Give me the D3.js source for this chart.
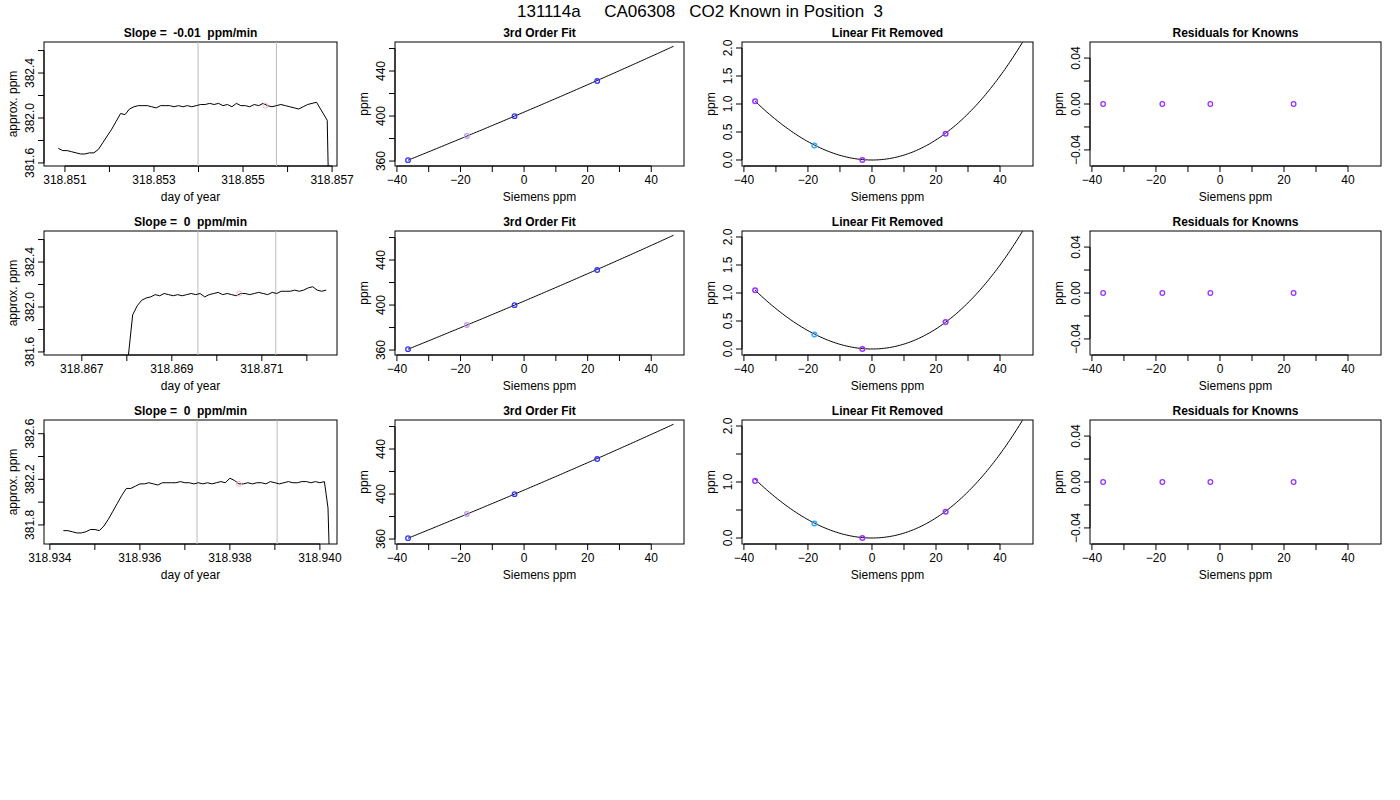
<!DOCTYPE html>
<html><head><meta charset="utf-8">
<script src="https://cdn.jsdelivr.net/npm/d3@7"></script>
<style>body{margin:0;background:#fff}text{font-family:"Liberation Sans",Arial,sans-serif;white-space:pre}</style>
</head><body><svg id="c" width="1400" height="800"></svg>
<script>
const mainTitle = "131114a     CA06308   CO2 Known in Position  3";
// time series per row
const tsStart = [318.85085, 318.86803, 318.93430];
const tsStep = 0.0001;
const tsValues = [
 [381.73,381.71,381.71,381.70,381.69,381.68,381.68,381.69,381.69,381.72,381.78,381.84,381.90,381.97,382.04,382.03,382.08,382.10,382.11,382.11,382.11,382.10,382.09,382.11,382.11,382.11,382.10,382.11,382.10,382.11,382.10,382.11,382.12,382.12,382.13,382.12,382.13,382.11,382.12,382.10,382.13,382.11,382.11,382.10,382.12,382.11,382.13,382.11,382.10,382.11,382.12,382.11,382.10,382.09,382.08,382.10,382.12,382.13,382.14],
 [381.55,381.93,382.01,382.06,382.08,382.09,382.11,382.10,382.12,382.11,382.10,382.11,382.10,382.11,382.12,382.11,382.12,382.09,382.11,382.12,382.13,382.11,382.12,382.11,382.10,382.12,382.12,382.11,382.12,382.13,382.12,382.11,382.13,382.12,382.14,382.14,382.14,382.15,382.14,382.15,382.17,382.18,382.15,382.14,382.15],
 [381.75,381.75,381.74,381.73,381.73,381.74,381.76,381.76,381.75,381.79,381.85,381.92,381.99,382.06,382.12,382.12,382.14,382.16,382.16,382.17,382.16,382.15,382.17,382.17,382.17,382.17,382.18,382.17,382.17,382.16,382.17,382.16,382.17,382.16,382.17,382.18,382.17,382.21,382.19,382.16,382.16,382.17,382.16,382.17,382.17,382.16,382.18,382.17,382.16,382.17,382.18,382.17,382.17,382.18,382.18,382.17,382.18,382.17,382.18]
];
const tsTail = [[[318.85689,381.98],[318.85692,381.40]], [], [[318.94018,381.95],[318.94022,381.40]]];
const tsXDomain = [[318.85053,318.85711],[318.86616,318.87267],[318.93387,318.94038]];
const tsYDomain = [[381.573,382.676],[381.573,382.676],[381.633,382.72]];
const tsXTicks = [[318.851,318.852,318.853,318.854,318.855,318.856,318.857],[318.867,318.868,318.869,318.870,318.871,318.872],[318.934,318.935,318.936,318.937,318.938,318.939,318.940]];
const tsXLabeled = [[318.851,318.853,318.855,318.857],[318.867,318.869,318.871],[318.934,318.936,318.938,318.940]];
const tsYTicks = [[381.6,381.8,382.0,382.2,382.4,382.6],[381.6,381.8,382.0,382.2,382.4,382.6],[381.8,382.0,382.2,382.4,382.6]];
const tsYLabeled = [[381.6,382.0,382.4],[381.6,382.0,382.4],[381.8,382.2,382.6]];
const grayLines = [[318.85399,318.85575],[318.86958,318.87131],[318.93727,318.93905]];
const pinkDot = [[318.8555,382.11],[318.8705,382.12],[318.9382,382.16]];
const slopes = ["-0.01","0","0"];
// calibration
const siemens = [-36.5,-18,-3,23];
const known = [360.8,382.3,399.9,431.1];
const fitCoef = [403.5,1.2,0.000859,0.000001946]; // c0 + c1 x + c2 x^2 + c3 x^3
const removed = [[1.05,0.26,0.0,0.47],[1.05,0.26,0.0,0.48],[1.02,0.26,0.0,0.47]];
const resid = [0,0,0,0];
const fitColors = ["#3333ff","#c49be8","#3333ff","#3333ff"];
const remColors = ["#9933ff","#33aaff","#9933ff","#9933ff"];
const residColors = ["#9933ff","#9933ff","#9933ff","#9933ff"];
const fitXRange = [-36.5,47];

const svg = d3.select("#c");
svg.append("text").attr("x",700).attr("y",17).attr("text-anchor","middle").attr("font-size",17).text(mainTitle);
const rowsY = [42,231,420], H = 124;
const colsX = [[44,337],[395,684],[742,1033],[1090,1381]];
const xCal = [-40.6,50.3];
let clipId=0;

function panel(x0,x1,y0,xs,ys,opt){
  const g = svg.append("g");
  const id="cl"+(clipId++);
  g.append("clipPath").attr("id",id).append("rect").attr("x",x0).attr("y",y0).attr("width",x1-x0).attr("height",H);
  const y1=y0+H;
  g.append("rect").attr("x",x0).attr("y",y0).attr("width",x1-x0).attr("height",H).attr("fill","none").attr("stroke","#000").attr("stroke-width",1);
  const xt=opt.xTicks, xl=opt.xLab;
  g.append("line").attr("x1",xs(xt[0])).attr("x2",xs(xt[xt.length-1])).attr("y1",y1).attr("y2",y1).attr("stroke","#000");
  xt.forEach(t=>{g.append("line").attr("x1",xs(t)).attr("x2",xs(t)).attr("y1",y1).attr("y2",y1+6).attr("stroke","#000");});
  xl.forEach(t=>{g.append("text").attr("x",xs(t)).attr("y",y1+18).attr("text-anchor","middle").attr("font-size",12).text(opt.xFmt(t));});
  const yt=opt.yTicks, yl=opt.yLab;
  g.append("line").attr("x1",x0).attr("x2",x0).attr("y1",ys(yt[0])).attr("y2",ys(yt[yt.length-1])).attr("stroke","#000");
  yt.forEach(t=>{g.append("line").attr("x1",x0-6).attr("x2",x0).attr("y1",ys(t)).attr("y2",ys(t)).attr("stroke","#000");});
  yl.forEach(t=>{g.append("text").attr("transform",`translate(${x0-10},${ys(t)}) rotate(-90)`).attr("text-anchor","middle").attr("font-size",12).text(opt.yFmt(t));});
  g.append("text").attr("x",(x0+x1)/2).attr("y",y1+35).attr("text-anchor","middle").attr("font-size",12).text(opt.xTitle);
  g.append("text").attr("transform",`translate(${x0-27},${y0+H/2}) rotate(-90)`).attr("text-anchor","middle").attr("font-size",12).text(opt.yTitle);
  g.append("text").attr("x",(x0+x1)/2).attr("y",y0-5).attr("text-anchor","middle").attr("font-size",12).attr("font-weight","bold").text(opt.title);
  return g.append("g").attr("clip-path",`url(#${id})`);
}
const f3=d3.format(".3f");
for(let r=0;r<3;r++){
  const y0=rowsY[r];
  let [a,b]=colsX[0];
  let xs=d3.scaleLinear().domain(tsXDomain[r]).range([a,b]);
  let ys=d3.scaleLinear().domain(tsYDomain[r]).range([y0+H,y0]);
  let p=panel(a,b,y0,xs,ys,{xTicks:tsXTicks[r],xLab:tsXLabeled[r],xFmt:f3,yTicks:tsYTicks[r],yLab:tsYLabeled[r],yFmt:d3.format(".1f"),xTitle:"day of year",yTitle:"approx. ppm",title:`Slope =  ${slopes[r]}  ppm/min`});
  grayLines[r].forEach(t=>p.append("line").attr("x1",xs(t)).attr("x2",xs(t)).attr("y1",y0).attr("y2",y0+H).attr("stroke","#bbb"));
  const pts=tsValues[r].map((v,i)=>[tsStart[r]+i*tsStep,v]).concat(tsTail[r]);
  p.append("path").attr("d",d3.line().x(d=>xs(d[0])).y(d=>ys(d[1]))(pts)).attr("fill","none").attr("stroke","#000").attr("stroke-width",1);
  p.append("circle").attr("cx",xs(pinkDot[r][0])).attr("cy",ys(pinkDot[r][1])).attr("r",2.5).attr("fill","none").attr("stroke","#ffb0c0");
  const calTicks=[-40,-30,-20,-10,0,10,20,30,40], calLab=[-40,-20,0,20,40];
  const curveX=d3.range(fitXRange[0],fitXRange[1]+0.01,0.5);
  [a,b]=colsX[1];
  xs=d3.scaleLinear().domain(xCal).range([a,b]);
  ys=d3.scaleLinear().domain([355.6,465.8]).range([y0+H,y0]);
  p=panel(a,b,y0,xs,ys,{xTicks:calTicks,xLab:calLab,xFmt:d3.format("d"),yTicks:[360,380,400,420,440,460],yLab:[360,400,440],yFmt:d3.format("d"),xTitle:"Siemens ppm",yTitle:"ppm",title:"3rd Order Fit"});
  const fit=x=>fitCoef[0]+fitCoef[1]*x+fitCoef[2]*x*x+fitCoef[3]*x*x*x;
  p.append("path").attr("d",d3.line().x(d=>xs(d)).y(d=>ys(fit(d)))(curveX)).attr("fill","none").attr("stroke","#000");
  siemens.forEach((s,i)=>p.append("circle").attr("cx",xs(s)).attr("cy",ys(known[i])).attr("r",2.3).attr("fill","none").attr("stroke",fitColors[i]).attr("stroke-width",1.3));
  [a,b]=colsX[2];
  xs=d3.scaleLinear().domain(xCal).range([a,b]);
  ys=d3.scaleLinear().domain([-0.107,2.107]).range([y0+H,y0]);
  p=panel(a,b,y0,xs,ys,{xTicks:calTicks,xLab:calLab,xFmt:d3.format("d"),yTicks:[0,0.5,1,1.5,2],yLab:r<2?[0,0.5,1,1.5,2]:[0,1,2],yFmt:d3.format(".1f"),xTitle:"Siemens ppm",yTitle:"ppm",title:"Linear Fit Removed"});
  const q=x=>fitCoef[2]*x*x+fitCoef[3]*x*x*x;
  p.append("path").attr("d",d3.line().x(d=>xs(d)).y(d=>ys(q(d)))(curveX)).attr("fill","none").attr("stroke","#000");
  siemens.forEach((s,i)=>p.append("circle").attr("cx",xs(s)).attr("cy",ys(removed[r][i])).attr("r",2.3).attr("fill","none").attr("stroke",remColors[i]).attr("stroke-width",1.5));
  [a,b]=colsX[3];
  xs=d3.scaleLinear().domain(xCal).range([a,b]);
  ys=d3.scaleLinear().domain([-0.054,0.054]).range([y0+H,y0]);
  p=panel(a,b,y0,xs,ys,{xTicks:calTicks,xLab:calLab,xFmt:d3.format("d"),yTicks:[-0.04,-0.02,0,0.02,0.04],yLab:[-0.04,0,0.04],yFmt:d3.format(".2f"),xTitle:"Siemens ppm",yTitle:"ppm",title:"Residuals for Knowns"});
  siemens.forEach((s,i)=>p.append("circle").attr("cx",xs(s)).attr("cy",ys(resid[i])).attr("r",2.3).attr("fill","none").attr("stroke",residColors[i]).attr("stroke-width",1.3));
}
</script></body></html>
